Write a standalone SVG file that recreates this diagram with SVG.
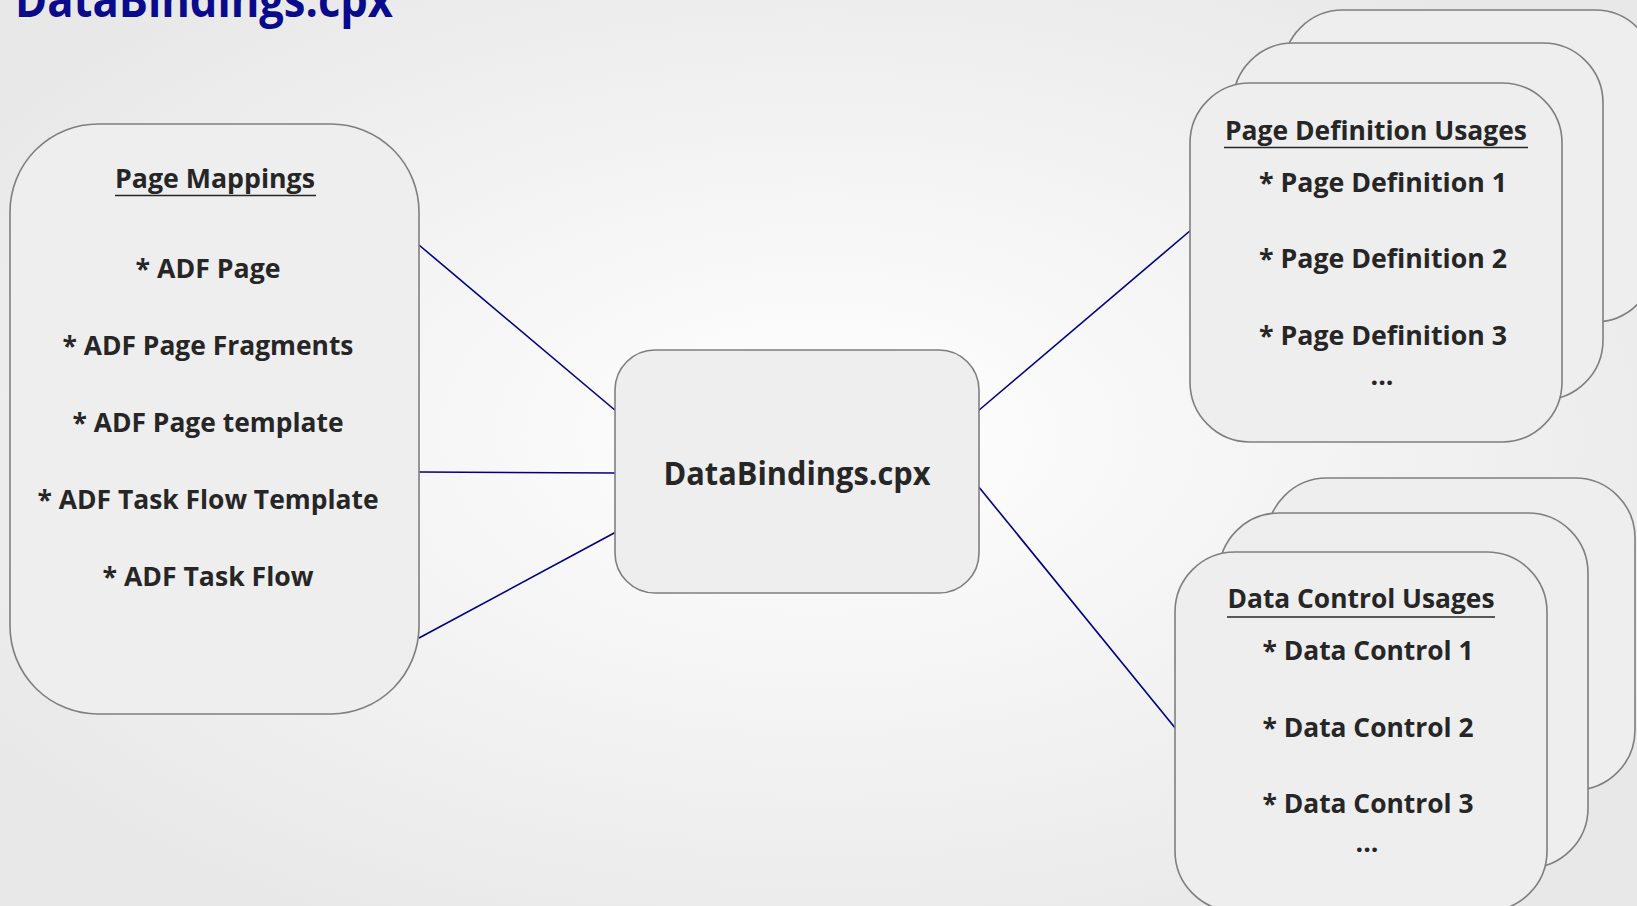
<svg xmlns="http://www.w3.org/2000/svg" width="1637" height="906" viewBox="0 0 1637 906">
<defs>
<radialGradient id="bg" cx="50%" cy="48%" r="62%">
<stop offset="0" stop-color="#ffffff"/>
<stop offset="1" stop-color="#e8e8e8"/>
</radialGradient>
<style>
.box{fill:#eeeeee;stroke:#7f7f7f;stroke-width:1.6}
.t{font-family:"Open Sans",Lato,"Liberation Sans",sans-serif;font-weight:700;fill:#262626;text-anchor:middle}
.it{font-size:27px}
.ul{stroke:#262626;stroke-width:1.6}
.conn line{stroke:#000080;stroke-width:1.6}
</style>
</defs>
<rect width="1637" height="906" fill="url(#bg)"/>
<text x="15" y="17" font-family="'Open Sans',Lato,'Liberation Sans',sans-serif" font-weight="700" font-size="48" fill="#0a0a8c" textLength="378" lengthAdjust="spacingAndGlyphs">DataBindings.cpx</text>

<g class="conn" id="connectors">
<line x1="419" y1="245" x2="616" y2="411"/>
<line x1="419" y1="472" x2="616" y2="473"/>
<line x1="419" y1="638" x2="616" y2="532"/>
<line x1="978" y1="411" x2="1191" y2="230"/>
<line x1="978" y1="486" x2="1176" y2="729"/>
</g>

<g id="page-mappings">
<rect class="box" x="10" y="124" width="409" height="590" rx="88" ry="88"/>
<text class="t it" x="215" y="188" textLength="200" lengthAdjust="spacingAndGlyphs">Page Mappings</text>
<line class="ul" x1="115" y1="195.5" x2="316" y2="195.5"/>
<text class="t it" x="208" y="278" textLength="145" lengthAdjust="spacingAndGlyphs">* ADF Page</text>
<text class="t it" x="208" y="355" textLength="291" lengthAdjust="spacingAndGlyphs">* ADF Page Fragments</text>
<text class="t it" x="208" y="432" textLength="271" lengthAdjust="spacingAndGlyphs">* ADF Page template</text>
<text class="t it" x="208" y="509" textLength="341" lengthAdjust="spacingAndGlyphs">* ADF Task Flow Template</text>
<text class="t it" x="208" y="586" textLength="211" lengthAdjust="spacingAndGlyphs">* ADF Task Flow</text>
</g>

<g id="databindings">
<rect class="box" x="615" y="350" width="364" height="243" rx="40" ry="40"/>
<text class="t" x="797" y="485" font-size="32" textLength="267" lengthAdjust="spacingAndGlyphs">DataBindings.cpx</text>
</g>

<g id="page-definition-usages">
<rect class="box" x="1283" y="10" width="372" height="312" rx="60" ry="60"/>
<rect class="box" x="1233" y="43" width="370" height="357" rx="60" ry="60"/>
<rect class="box" x="1190" y="83" width="372" height="359" rx="60" ry="60"/>
<text class="t it" x="1376" y="140" textLength="302" lengthAdjust="spacingAndGlyphs">Page Definition Usages</text>
<line class="ul" x1="1224" y1="147.5" x2="1528" y2="147.5"/>
<text class="t it" x="1383" y="192" textLength="248" lengthAdjust="spacingAndGlyphs">* Page Definition 1</text>
<text class="t it" x="1383" y="268" textLength="248" lengthAdjust="spacingAndGlyphs">* Page Definition 2</text>
<text class="t it" x="1383" y="345" textLength="248" lengthAdjust="spacingAndGlyphs">* Page Definition 3</text>
<text class="t it" x="1382" y="385" textLength="23" lengthAdjust="spacingAndGlyphs">...</text>
</g>

<g id="data-control-usages">
<rect class="box" x="1267" y="478" width="368" height="312" rx="60" ry="60"/>
<rect class="box" x="1219" y="513" width="369" height="355" rx="60" ry="60"/>
<rect class="box" x="1175" y="552" width="372" height="359" rx="60" ry="60"/>
<text class="t it" x="1361" y="608" textLength="267" lengthAdjust="spacingAndGlyphs">Data Control Usages</text>
<line class="ul" x1="1227" y1="617" x2="1495" y2="617"/>
<text class="t it" x="1368" y="660" textLength="211" lengthAdjust="spacingAndGlyphs">* Data Control 1</text>
<text class="t it" x="1368" y="737" textLength="211" lengthAdjust="spacingAndGlyphs">* Data Control 2</text>
<text class="t it" x="1368" y="813" textLength="211" lengthAdjust="spacingAndGlyphs">* Data Control 3</text>
<text class="t it" x="1367" y="852" textLength="23" lengthAdjust="spacingAndGlyphs">...</text>
</g>
</svg>
